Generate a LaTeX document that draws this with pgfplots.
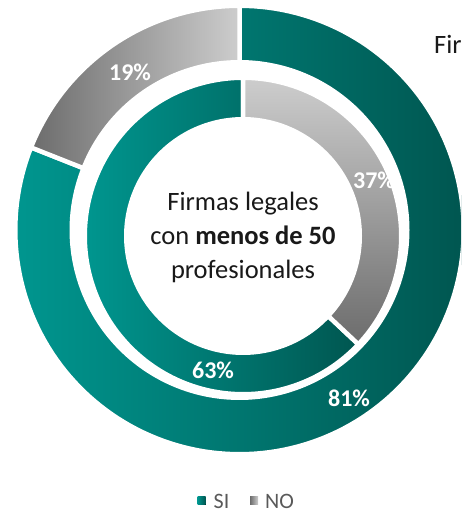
\documentclass[border=0pt]{standalone}
\usepackage{pgfplots}
\pgfplotsset{compat=1.18}
\usepackage{fontspec}
\setmainfont{Carlito}
\definecolor{tealL}{RGB}{0,150,143}
\definecolor{tealD}{RGB}{0,86,80}
\definecolor{grayL}{RGB}{205,205,205}
\definecolor{grayD}{RGB}{108,108,108}
\definecolor{legtxt}{RGB}{89,89,89}
% data (percent)
\def\outerSI{81}
\def\outerNO{19}
\def\innerSI{63}
\def\innerNO{37}
\pgfmathsetmacro{\oA}{90-3.6*\outerSI}
\pgfmathsetmacro{\oB}{90+3.6*\outerNO}
\pgfmathsetmacro{\iA}{90-3.6*\innerNO}
\pgfmathsetmacro{\iB}{\iA-3.6*\innerSI}
% geometry
\def\ocx{239.5}\def\ocy{283}\def\oro{224.25}\def\ori{170}
\def\icx{243}\def\icy{277}\def\iro{158.25}\def\iri{119}
\begin{document}
\begin{tikzpicture}
\path[use as bounding box] (0,0) rectangle (461pt,513pt);
\clip (0,0) rectangle (461pt,513pt);
\begin{axis}[
  at={(0,0)}, anchor=south west,
  width=461pt, height=513pt, scale only axis,
  xmin=0, xmax=461, ymin=0, ymax=513,
  hide axis, clip=false,
]
% outer ring
\addplot[draw=white, line width=4.5pt, left color=tealL, right color=tealD,
  domain=\oA:90, samples=160, variable=\t]
  ({\ocx+\oro*cos(\t)},{\ocy+\oro*sin(\t)}) -- (axis cs:\ocx,\ocy) -- cycle;
\addplot[draw=white, line width=4.5pt, left color=grayD, right color=grayL,
  domain=90:\oB, samples=60, variable=\t]
  ({\ocx+\oro*cos(\t)},{\ocy+\oro*sin(\t)}) -- (axis cs:\ocx,\ocy) -- cycle;
\addplot[fill=white, draw=none, domain=0:360, samples=200, variable=\t]
  ({\ocx+\ori*cos(\t)},{\ocy+\ori*sin(\t)}) -- cycle;
% inner ring
\addplot[draw=white, line width=4.5pt, left color=tealL, right color=tealD,
  domain=\iB:\iA, samples=140, variable=\t]
  ({\icx+\iro*cos(\t)},{\icy+\iro*sin(\t)}) -- (axis cs:\icx,\icy) -- cycle;
\addplot[draw=white, line width=4.5pt, top color=grayL, bottom color=grayD,
  domain=\iA:90, samples=80, variable=\t]
  ({\icx+\iro*cos(\t)},{\icy+\iro*sin(\t)}) -- (axis cs:\icx,\icy) -- cycle;
\addplot[fill=white, draw=none, domain=0:360, samples=200, variable=\t]
  ({\icx+\iri*cos(\t)},{\icy+\iri*sin(\t)}) -- cycle;
% labels
\tikzset{pct/.style={text=white, font=\fontsize{24}{28}\selectfont\bfseries, inner sep=0pt}}
\node[pct] at (axis cs:130,441) {19\%};
\node[pct] at (axis cs:374,333) {37\%};
\node[pct] at (axis cs:213,143) {63\%};
\node[pct] at (axis cs:349,115) {81\%};
% center text
\node[align=center, text=black!90, font=\fontsize{26.5}{34}\selectfont, inner sep=0pt]
  at (axis cs:243,276) {Firmas legales\\con \textbf{menos de 50}\\profesionales};
% cut title at right
\node[anchor=base west, inner sep=0pt, text=black!90, font=\fontsize{26.5}{34}\selectfont]
  at (axis cs:434,459.5) {Firmas legales};
% legend
\fill[left color=tealL, right color=tealD] (axis cs:197.5,8) rectangle (axis cs:205.5,16);
\fill[left color=grayD, right color=grayL] (axis cs:250,8) rectangle (axis cs:258,16);
\node[anchor=base west, inner sep=0pt, text=legtxt, font=\fontsize{22}{26}\selectfont]
  at (axis cs:213.5,5) {SI};
\node[anchor=base west, inner sep=0pt, text=legtxt, font=\fontsize{22}{26}\selectfont]
  at (axis cs:265,5) {NO};
\end{axis}
\end{tikzpicture}
\end{document}
